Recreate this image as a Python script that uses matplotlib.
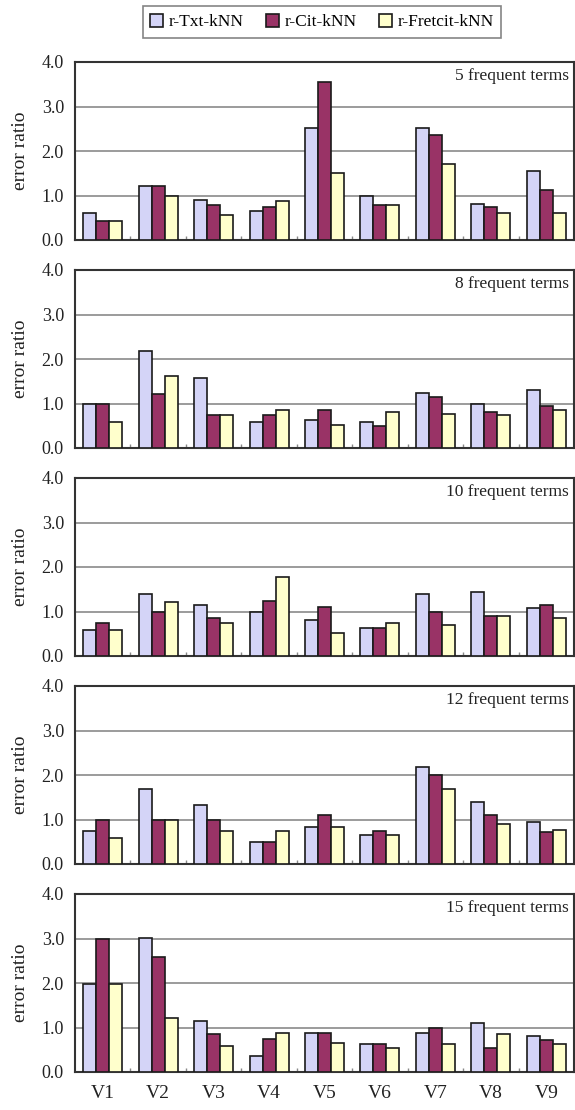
import matplotlib
matplotlib.use("Agg")
import matplotlib.pyplot as plt
import numpy as np
from matplotlib.patches import Patch

plt.rcParams['font.family'] = ['Liberation Serif', 'DejaVu Serif']

categories = ["V1", "V2", "V3", "V4", "V5", "V6", "V7", "V8", "V9"]
series_names = ["r-Txt-kNN", "r-Cit-kNN", "r-Fretcit-kNN"]
panel_titles = ["5 frequent terms", "8 frequent terms", "10 frequent terms",
                "12 frequent terms", "15 frequent terms"]

# 5 frequent terms
txt_5 = [0.61, 1.22, 0.91, 0.66, 2.51, 1.00, 2.51, 0.82, 1.55]
cit_5 = [0.43, 1.22, 0.79, 0.75, 3.56, 0.79, 2.37, 0.75, 1.13]
fre_5 = [0.43, 1.00, 0.57, 0.88, 1.51, 0.79, 1.70, 0.61, 0.61]
# 8 frequent terms
txt_8 = [1.00, 2.19, 1.58, 0.58, 0.64, 0.58, 1.23, 1.00, 1.31]
cit_8 = [1.00, 1.22, 0.74, 0.74, 0.85, 0.50, 1.15, 0.80, 0.94]
fre_8 = [0.59, 1.61, 0.74, 0.85, 0.52, 0.82, 0.77, 0.74, 0.85]
# 10 frequent terms
txt_10 = [0.58, 1.39, 1.15, 1.00, 0.82, 0.64, 1.39, 1.43, 1.07]
cit_10 = [0.74, 1.00, 0.85, 1.24, 1.09, 0.64, 1.00, 0.90, 1.15]
fre_10 = [0.58, 1.22, 0.74, 1.77, 0.51, 0.74, 0.70, 0.90, 0.85]
# 12 frequent terms
txt_12 = [0.74, 1.68, 1.32, 0.49, 0.83, 0.65, 2.17, 1.39, 0.94]
cit_12 = [1.00, 1.00, 1.00, 0.49, 1.10, 0.74, 2.00, 1.10, 0.71]
fre_12 = [0.59, 1.00, 0.74, 0.75, 0.83, 0.65, 1.68, 0.91, 0.76]
# 15 frequent terms
txt_15 = [1.97, 3.02, 1.15, 0.35, 0.88, 0.63, 0.88, 1.09, 0.82]
cit_15 = [3.00, 2.58, 0.85, 0.75, 0.88, 0.63, 1.00, 0.55, 0.72]
fre_15 = [1.97, 1.22, 0.58, 0.88, 0.66, 0.55, 0.64, 0.85, 0.64]

panels = [
    (txt_5, cit_5, fre_5),
    (txt_8, cit_8, fre_8),
    (txt_10, cit_10, fre_10),
    (txt_12, cit_12, fre_12),
    (txt_15, cit_15, fre_15),
]

colors = ["#D4D4F7", "#993366", "#FFFFCC"]
edge = "#1a1a1a"

W, H = 575, 1110
fig = plt.figure(figsize=(W / 100, H / 100), dpi=100)

left_px, right_px = 75, 574
panel_h = 178
bottoms_px = [240, 448, 656, 864, 1072]

x = np.arange(len(categories))
bw = 0.235
offsets = [-bw, 0, bw]

for i, (vals, title) in enumerate(zip(panels, panel_titles)):
    b = bottoms_px[i]
    ax = fig.add_axes([left_px / W, 1 - b / H, (right_px - left_px) / W, panel_h / H])
    for s in range(3):
        ax.bar(x + offsets[s], vals[s], width=bw, color=colors[s],
               edgecolor=edge, linewidth=1.2, zorder=3)
    ax.set_xlim(-0.5, 8.5)
    ax.set_ylim(0, 4.0)
    ax.set_yticks([0, 1, 2, 3, 4])
    ax.set_yticklabels(["0.0", "1.0", "2.0", "3.0", "4.0"])
    ax.yaxis.grid(True, color="#808080", linewidth=1.1, zorder=0)
    ax.set_axisbelow(True)
    ax.tick_params(axis='y', length=0, labelsize=13, pad=8, colors="#222222")
    ax.set_xticks(x)
    ax.set_xticks(np.arange(0.5, 8.5, 1.0), minor=True)
    ax.tick_params(axis='x', which='minor', direction='in', length=3,
                   color="#888888", width=1)
    ax.tick_params(axis='x', which='major', length=0)
    if i == len(panels) - 1:
        ax.set_xticklabels(categories, fontsize=14)
        ax.tick_params(axis='x', which='major', pad=9, colors="#222222")
    else:
        ax.set_xticklabels([])
    for sp in ax.spines.values():
        sp.set_color("#333333")
        sp.set_linewidth(1.5)
    ax.set_ylabel("error ratio", fontsize=14, labelpad=9, color="#222222")
    ax.text(0.99, 0.92, title, transform=ax.transAxes, ha='right',
            va='center', fontsize=12.5, color="#222222")

handles = [Patch(facecolor=colors[s], edgecolor=edge, linewidth=1.2,
                 label=series_names[s]) for s in range(3)]
leg = fig.legend(handles=handles, loc='center', bbox_to_anchor=(322 / W, 1 - 22 / H),
                 ncol=3, fontsize=12.5, frameon=True, fancybox=False,
                 handlelength=0.75, handleheight=0.75, handletextpad=0.3,
                 columnspacing=1.3, borderpad=0.45)
leg.get_frame().set_edgecolor("#666666")
leg.get_frame().set_linewidth(1.2)

fig.savefig("out.png", dpi=100)
